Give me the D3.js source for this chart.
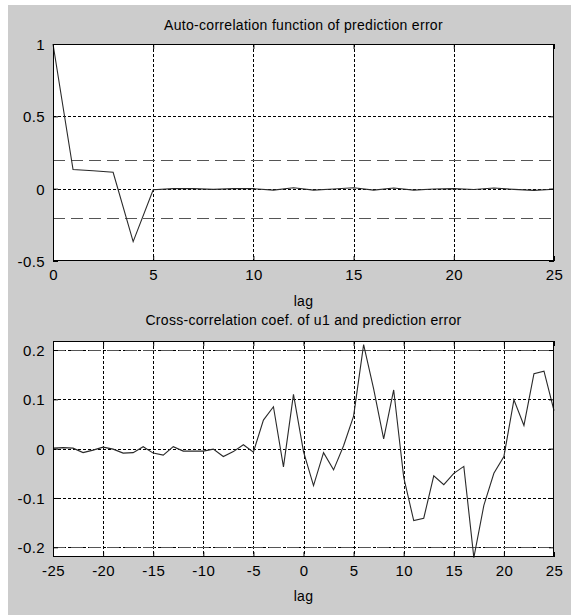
<!DOCTYPE html>
<html><head><meta charset="utf-8">
<script src="https://cdn.jsdelivr.net/npm/d3@7/dist/d3.min.js"></script>
<style>
html,body{margin:0;padding:0;background:#fff;}
svg{display:block;}
text{font-family:"Liberation Sans",Arial,Helvetica,sans-serif;fill:#000;}
</style></head>
<body>
<svg id="chart" width="571" height="615"></svg>
<script>
// ---- data ----
const acfLags = d3.range(0, 26);
const acfValues = [1, 0.132, 0.124, 0.113, -0.366, -0.008, 0, 0, -0.005, 0, 0,
  -0.01, 0.006, -0.01, -0.002, 0.006, -0.01, 0.005, -0.01, -0.002, 0,
  -0.006, 0.005, -0.005, -0.012, -0.004];
const acfConf = 0.2;

const ccfLags = d3.range(-25, 26);
const ccfValues = [0.001, 0.002, 0.001, -0.008, -0.003, 0.003, -0.001, -0.009, -0.008, 0.004,
  -0.009, -0.013, 0.004, -0.005, -0.005, -0.005, -0.001, -0.016, -0.006, 0.008,
  -0.007, 0.058, 0.085, -0.037, 0.11, -0.006, -0.075, -0.008, -0.043, 0.006,
  0.066, 0.211, 0.121, 0.02, 0.119, -0.058, -0.146, -0.141, -0.055, -0.073,
  -0.05, -0.036, -0.221, -0.115, -0.05, -0.016, 0.099, 0.047, 0.152, 0.157, 0.077];
const ccfConf = 0.2;

const acfXTicks = [0, 5, 10, 15, 20, 25];
const acfYTicks = [-0.5, 0, 0.5, 1];
const ccfXTicks = [-25, -20, -15, -10, -5, 0, 5, 10, 15, 20, 25];
const ccfYTicks = [-0.2, -0.1, 0, 0.1, 0.2];

const titles = ["Auto-correlation function of prediction error",
                "Cross-correlation coef. of u1 and prediction error"];
const xLabel = "lag";

// ---- drawing ----
const svg = d3.select("#chart");
svg.append("rect").attr("x", 8).attr("y", 5).attr("width", 563).attr("height", 610).attr("fill", "#cccccc");

const fmt = d => (d === 0 ? "0" : String(d));

function panel(cfg) {
  const {left, right, top, bottom, xDomain, yDomain, xTicks, yTicks, lags, values, conf, title, titleY, labelY} = cfg;
  const x = d3.scaleLinear().domain(xDomain).range([left, right]);
  const y = d3.scaleLinear().domain(yDomain).range([bottom, top]);
  const g = svg.append("g");
  g.append("rect").attr("x", left).attr("y", top).attr("width", right - left).attr("height", bottom - top).attr("fill", "#fff");

  // grid
  g.selectAll(".gx").data(xTicks.filter(t => t !== xDomain[0] && t !== xDomain[1])).enter().append("line")
    .attr("x1", d => Math.round(x(d)) + 0.5).attr("x2", d => Math.round(x(d)) + 0.5)
    .attr("y1", top).attr("y2", bottom)
    .attr("stroke", "#000").attr("stroke-width", 1).attr("stroke-dasharray", "3,2");
  g.selectAll(".gy").data(yTicks.filter(t => Math.abs(y(t) - top) > 1 && Math.abs(y(t) - bottom) > 1)).enter().append("line")
    .attr("y1", d => Math.round(y(d)) + 0.5).attr("y2", d => Math.round(y(d)) + 0.5)
    .attr("x1", left).attr("x2", right)
    .attr("stroke", "#000").attr("stroke-width", 1).attr("stroke-dasharray", "3,2");

  // confidence bounds
  g.selectAll(".cf").data([conf, -conf]).enter().append("line")
    .attr("y1", d => Math.round(y(d)) + 0.5).attr("y2", d => Math.round(y(d)) + 0.5)
    .attr("x1", left).attr("x2", right)
    .attr("stroke", "#555").attr("stroke-width", 1).attr("stroke-dasharray", "12,6");

  // data line
  const line = d3.line().x((d, i) => x(lags[i])).y(d => y(d));
  g.append("path").datum(values).attr("d", line)
    .attr("fill", "none").attr("stroke", "#2a2a2a").attr("stroke-width", 1.1);

  // axes (inward ticks)
  const axB = g.append("g").attr("transform", `translate(0,${bottom})`)
    .call(d3.axisBottom(x).tickValues(xTicks).tickSize(-5).tickPadding(10).tickFormat(fmt));
  const axT = g.append("g").attr("transform", `translate(0,${top})`)
    .call(d3.axisTop(x).tickValues(xTicks).tickSize(-5).tickFormat(""));
  const axL = g.append("g").attr("transform", `translate(${left},0)`)
    .call(d3.axisLeft(y).tickValues(yTicks).tickSize(-5).tickPadding(8).tickFormat(fmt));
  const axR = g.append("g").attr("transform", `translate(${right},0)`)
    .call(d3.axisRight(y).tickValues(yTicks).tickSize(-5).tickFormat(""));
  [axB, axT, axL, axR].forEach(a => {
    a.select(".domain").remove();
    a.selectAll("line").attr("stroke", "#000");
    a.selectAll("text").attr("font-size", 15).attr("letter-spacing", "0.4px")
      .attr("font-family", '"Liberation Sans",Arial,sans-serif').attr("fill", "#000");
  });
  axB.selectAll("text").attr("dy", null).attr("y", 19).attr("dominant-baseline", "alphabetic");
  axL.selectAll("text").attr("dy", "0.36em");

  g.append("rect").attr("x", left + 0.5).attr("y", top + 0.5).attr("width", right - left - 1).attr("height", bottom - top - 1)
    .attr("fill", "none").attr("stroke", "#000").attr("stroke-width", 1);

  svg.append("text").attr("x", (left + right) / 2).attr("y", titleY).attr("text-anchor", "middle")
    .attr("font-size", 14).attr("letter-spacing", "0.3px").text(title);
  svg.append("text").attr("x", (left + right) / 2).attr("y", labelY).attr("text-anchor", "middle")
    .attr("font-size", 14).attr("letter-spacing", "0.3px").text(xLabel);
}

panel({left: 53, right: 554, top: 44, bottom: 261, xDomain: [0, 25], yDomain: [-0.5, 1],
  xTicks: acfXTicks, yTicks: acfYTicks, lags: acfLags, values: acfValues, conf: acfConf,
  title: titles[0], titleY: 30, labelY: 306});
panel({left: 53, right: 554, top: 341, bottom: 557, xDomain: [-25, 25], yDomain: [-0.2197, 0.2183],
  xTicks: ccfXTicks, yTicks: ccfYTicks, lags: ccfLags, values: ccfValues, conf: ccfConf,
  title: titles[1], titleY: 325, labelY: 601});
</script>
</body></html>
